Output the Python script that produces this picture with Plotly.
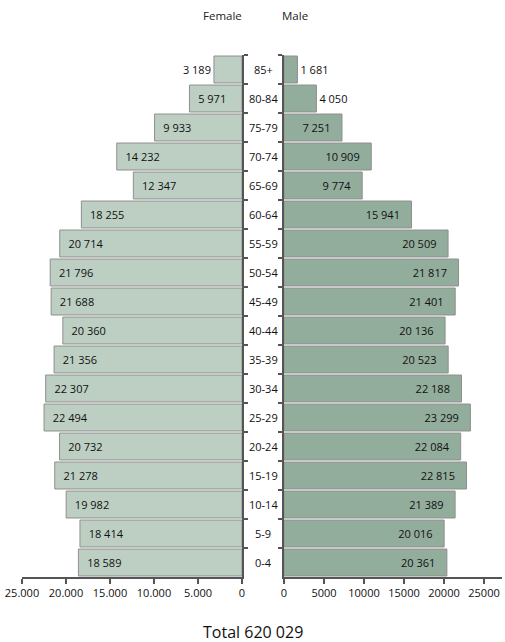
import plotly.graph_objects as go
from plotly.subplots import make_subplots

ages = ["85+", "80-84", "75-79", "70-74", "65-69", "60-64", "55-59", "50-54", "45-49",
        "40-44", "35-39", "30-34", "25-29", "20-24", "15-19", "10-14", "5-9", "0-4"]
female = [3189, 5971, 9933, 14232, 12347, 18255, 20714, 21796, 21688,
          20360, 21356, 22307, 22494, 20732, 21278, 19982, 18414, 18589]
male = [1681, 4050, 7251, 10909, 9774, 15941, 20509, 21817, 21401,
        20136, 20523, 22188, 23299, 22084, 22815, 21389, 20016, 20361]
left_ticks = [25000, 20000, 15000, 10000, 5000, 0]
left_ticktext = ["25.000", "20.000", "15.000", "10.000", "5.000", "0"]
right_ticks = [0, 5000, 10000, 15000, 20000, 25000]
right_ticktext = ["0", "5000", "10000", "15000", "20000", "25000"]
total_label = "Total 620 029"

NB = "\u00a0"


def fmt(v):
    return f"{v:,}".replace(",", " ")


def labels(vals, inside_pad_left):
    pos, txt = [], []
    for v in vals:
        if v < 5000:
            pos.append("outside")
            txt.append(fmt(v))
        else:
            pos.append("inside")
            txt.append(NB * 2 + fmt(v) if inside_pad_left else fmt(v) + NB * 3)
    return pos, txt


FONT = "Open Sans"
AX = "#555555"
TF = dict(family=FONT, size=11, color="#111")
fig = make_subplots(rows=1, cols=2, horizontal_spacing=0.0)

fpos, ftxt = labels(female, True)
mpos, mtxt = labels(male, False)

fig.add_trace(go.Bar(
    y=ages, x=female, orientation="h", text=ftxt,
    textposition=fpos, insidetextanchor="end", cliponaxis=False,
    marker=dict(color="#bccfc2", line=dict(color="#8f8f8f", width=1)),
    textfont=TF, insidetextfont=TF, outsidetextfont=TF,
    showlegend=False), row=1, col=1)
fig.add_trace(go.Bar(
    y=ages, x=male, orientation="h", text=mtxt,
    textposition=mpos, insidetextanchor="end", cliponaxis=False,
    marker=dict(color="#93ad9c", line=dict(color="#8f8f8f", width=1)),
    textfont=TF, insidetextfont=TF, outsidetextfont=TF,
    showlegend=False), row=1, col=2)

L_DOM = [0, 220 / 480]
R_DOM = [262 / 480, 1]
ax_common = dict(showgrid=False, zeroline=False, showline=True, linecolor=AX, linewidth=1.5,
                 ticks="outside", ticklen=5, tickcolor=AX, tickwidth=1.5,
                 tickfont=dict(family=FONT, size=11, color="#111"), automargin=False)
y_common = dict(autorange="reversed", showticklabels=False, showgrid=False,
                showline=True, linecolor=AX, linewidth=1.5, ticks="outside", ticklen=4,
                tickcolor=AX, tickwidth=1.5, tickson="boundaries", automargin=False)
fig.update_layout(
    width=505, height=642,
    margin=dict(l=22, r=3, t=55, b=65),
    plot_bgcolor="white", paper_bgcolor="white",
    bargap=0.07,
    font=dict(family=FONT, size=11, color="#111"),
    xaxis=dict(domain=L_DOM, range=[25000, 0], tickvals=left_ticks, ticktext=left_ticktext,
               **ax_common),
    xaxis2=dict(domain=R_DOM, range=[0, 27250], tickvals=right_ticks, ticktext=right_ticktext,
                **ax_common),
    yaxis=dict(side="right", **y_common),
    yaxis2=dict(side="left", **y_common),
)

for a in ages:
    fig.add_annotation(x=241 / 480, y=a, xref="paper", yref="y", text=a, showarrow=False,
                       font=dict(family=FONT, size=11, color="#111"))

fig.add_annotation(x=(222 - 22) / 480, y=1 + (55 - 15) / 522, xref="paper", yref="paper",
                   text="Female", showarrow=False, yanchor="middle",
                   font=dict(family=FONT, size=11.5, color="#222"))
fig.add_annotation(x=(295 - 22) / 480, y=1 + (55 - 15) / 522, xref="paper", yref="paper",
                   text="Male", showarrow=False, yanchor="middle",
                   font=dict(family=FONT, size=11.5, color="#222"))
fig.add_annotation(x=(253 - 22) / 480, y=-(632 - 577) / 522, xref="paper", yref="paper",
                   text=total_label, showarrow=False, yanchor="middle",
                   font=dict(family=FONT, size=16, color="#111"))

fig.write_html("out.html", config={"displayModeBar": False},
               post_script="document.body.style.margin='0';")
